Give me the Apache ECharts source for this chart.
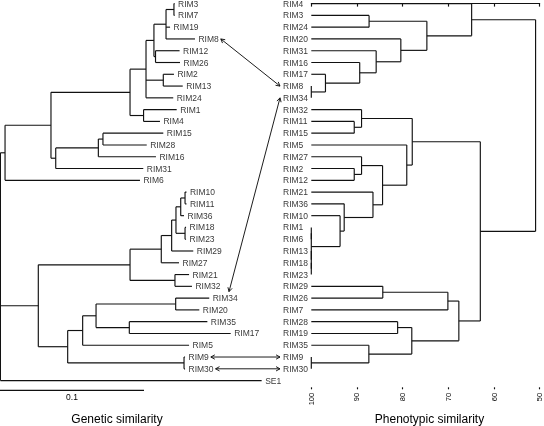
<!DOCTYPE html>
<html>
<head>
<meta charset="utf-8">
<script src="https://cdn.jsdelivr.net/npm/echarts@6/dist/echarts.min.js"></script>
<style>html,body{margin:0;padding:0;background:#fff;}#c{width:544px;height:426px;}#c svg{opacity:0.999;will-change:transform;}</style>
</head>
<body>
<div id="c"></div>
<script>
// ---------- DATA ----------
// Genetic tree (left): leaf order, tip distances (from root), internal nodes [id, distance, children...]
const geneLeaves = ['RIM3','RIM7','RIM19','RIM8','RIM12','RIM26','RIM2','RIM13','RIM24','RIM1','RIM4','RIM15','RIM28','RIM16','RIM31','RIM6','RIM10','RIM11','RIM36','RIM18','RIM23','RIM29','RIM27','RIM21','RIM32','RIM34','RIM20','RIM35','RIM17','RIM5','RIM9','RIM30','SE1'];
const geneTips = [0.1212,0.1212,0.1181,0.1354,0.1247,0.1250,0.1208,0.1269,0.1203,0.1227,0.1111,0.1134,0.1019,0.1083,0.0995,0.0972,0.1295,0.1295,0.1278,0.1292,0.1292,0.1342,0.1243,0.1313,0.1333,0.1453,0.1384,0.1440,0.1602,0.1313,0.1285,0.1285,0.1817];
const geneMerges = [
  ['g1', 0.1208, 'RIM3','RIM7'],
  ['g2', 0.1153, 'g1','RIM19','RIM8'],
  ['g3', 0.1080, 'RIM12','RIM26'],
  ['g4', 0.1069, 'g2','g3'],
  ['g5', 0.1134, 'RIM2','RIM13'],
  ['g6', 0.1014, 'g4','g5','RIM24'],
  ['g7', 0.0997, 'RIM1','RIM4'],
  ['g8', 0.0903, 'g6','g7'],
  ['g9', 0.0715, 'RIM15','RIM28'],
  ['g10', 0.0683, 'g9','RIM16'],
  ['g11', 0.0387, 'g10','RIM31'],
  ['g12', 0.0354, 'g8','g11'],
  ['g13', 0.0035, 'g12','RIM6'],
  ['g14', 0.1285, 'RIM10','RIM11'],
  ['g15', 0.1255, 'g14','RIM36'],
  ['g16', 0.1285, 'RIM18','RIM23'],
  ['g17', 0.1222, 'g15','g16'],
  ['g18', 0.1192, 'g17','RIM29'],
  ['g19', 0.1120, 'g18','RIM27'],
  ['g20', 0.1215, 'RIM21','RIM32'],
  ['g21', 0.0903, 'g19','g20'],
  ['g22', 0.1220, 'RIM34','RIM20'],
  ['g23', 0.0898, 'RIM35','RIM17'],
  ['g24', 0.0667, 'g22','g23'],
  ['g25', 0.0574, 'g24','RIM5'],
  ['g26', 0.1278, 'RIM9','RIM30'],
  ['g27', 0.0470, 'g25','g26'],
  ['g28', 0.0266, 'g21','g27'],
  ['g29', 0.0003, 'g13','g28','SE1']
];
const geneScaleBar = [0.1];

// Phenotypic tree (right): leaf order, merges [id, similarity %, children...]
const phenoLeaves = ['RIM4','RIM3','RIM24','RIM20','RIM31','RIM16','RIM17','RIM8','RIM34','RIM32','RIM11','RIM15','RIM5','RIM27','RIM2','RIM12','RIM21','RIM36','RIM10','RIM1','RIM6','RIM13','RIM18','RIM23','RIM29','RIM26','RIM7','RIM28','RIM19','RIM35','RIM9','RIM30'];
const phenoMerges = [
  ['p1', 100, 'RIM8','RIM34'],
  ['p2', 96.9, 'RIM17','p1'],
  ['p3', 89.4, 'RIM16','p2'],
  ['p4', 85.8, 'RIM31','p3'],
  ['p5', 80.4, 'RIM20','p4'],
  ['p6', 87.35, 'RIM3','RIM24'],
  ['p7', 74.7, 'p6','p5'],
  ['p8', 64.9, 'RIM4','p7'],
  ['p9', 90.6, 'RIM11','RIM15'],
  ['p10', 89.0, 'RIM32','p9'],
  ['p11', 90.6, 'RIM2','RIM12'],
  ['p12', 89.0, 'RIM27','p11'],
  ['p13', 100, 'RIM18','RIM23'],
  ['p14', 100, 'RIM13','p13'],
  ['p15', 100, 'RIM1','RIM6'],
  ['p16', 100, 'p15','p14'],
  ['p17', 93.7, 'RIM10','p16'],
  ['p18', 92.8, 'RIM36','p17'],
  ['p19', 86.5, 'RIM21','p18'],
  ['p20', 84.4, 'p12','p19'],
  ['p21', 79.1, 'RIM5','p20'],
  ['p22', 77.9, 'p10','p21'],
  ['p23', 84.35, 'RIM29','RIM26'],
  ['p24', 70.1, 'p23','RIM7'],
  ['p25', 81.1, 'RIM28','RIM19'],
  ['p26', 100, 'RIM9','RIM30'],
  ['p27', 87.4, 'RIM35','p26'],
  ['p28', 78.0, 'p25','p27'],
  ['p29', 67.7, 'p24','p28'],
  ['p30', 63.0, 'p22','p29'],
  ['p31', 50.9, 'p8','p30']
];
const phenoTicks = [100, 90, 80, 70, 60, 50];

// Leaves linked across the two trees: [name, arrow anchor on the left label]
const links = [['RIM8','right'], ['RIM34','top'], ['RIM9','right'], ['RIM30','right']];

// ---------- LAYOUT CONSTANTS ----------
const W = 544, H = 426;
const GRID_TOP = 3.6, GRID_H = 385.7, ROWMAX = 32.74;
const GENE_PX = 1440;           // px per unit genetic distance
const RIGHT_LEFT = 311.3, RIGHT_W = 228.4;
const RIGHT_LABEL_OFF = 28.3;
const FONT = 'Liberation Sans';
const LABEL_SIZE = 8.5;
const INK = '#111';
const LW = 1.15;

// ---------- TREE LAYOUT ----------
function buildSegments(leaves, leafX, merges) {
  const nodes = {};
  const get = k => nodes[k] || { x: leafX(k), y: leaves.indexOf(k) };
  const segs = [];
  merges.forEach(m => {
    const id = m[0], h = m[1];
    const kids = m.slice(2).map(get);
    kids.forEach(k => segs.push([k.x, k.y, h, k.y]));
    const y0 = kids[0].y, y1 = kids[kids.length - 1].y;
    segs.push([h, y0, h, y1]);
    nodes[id] = { x: h, y: (y0 + y1) / 2 };
  });
  return segs;
}
const geneSegs = buildSegments(geneLeaves, n => geneTips[geneLeaves.indexOf(n)], geneMerges);
const phenoSegs = buildSegments(phenoLeaves, () => 100, phenoMerges);

const measureCtx = document.createElement('canvas').getContext('2d');
measureCtx.font = LABEL_SIZE + 'px "' + FONT + '"';
const textW = s => measureCtx.measureText(s).width;

function segItem(params, api) {
  const a = api.coord([api.value(0), api.value(1)]);
  const b = api.coord([api.value(2), api.value(3)]);
  return { type: 'line', shape: { x1: a[0], y1: a[1], x2: b[0], y2: b[1] },
           style: { stroke: INK, lineWidth: LW } };
}

function head(tx, ty, fx, fy) {
  const ang = Math.atan2(ty - fy, tx - fx), len = 4.5, sp = 0.5;
  return { type: 'polyline', shape: { points: [
      [tx - len * Math.cos(ang - sp), ty - len * Math.sin(ang - sp)],
      [tx, ty],
      [tx - len * Math.cos(ang + sp), ty - len * Math.sin(ang + sp)]] },
    style: { stroke: INK, lineWidth: 0.95, fill: null } };
}

function linkItem(params, api) {
  const lk = links[params.dataIndex];
  const name = lk[0];
  const L = api.coord([api.value(0), api.value(1)]);
  const w = textW(name);
  const labStart = L[0] + 0.5 + 3;
  let sx, sy;
  if (lk[1] === 'top') { sx = labStart + 0.65 * w; sy = L[1] - 6.5; }
  else { sx = labStart + w + 2; sy = L[1]; }
  const R = api.coord([0, api.value(2)]);
  const ex = RIGHT_LEFT - RIGHT_LABEL_OFF - 3, ey = R[1];
  return { type: 'group', children: [
    { type: 'line', shape: { x1: sx, y1: sy, x2: ex, y2: ey }, style: { stroke: INK, lineWidth: 0.95 } },
    head(sx, sy, ex, ey), head(ex, ey, sx, sy)
  ] };
}

function scaleItem(params, api) {
  const a = api.coord([0, ROWMAX]);
  const b = api.coord([api.value(0), ROWMAX]);
  const y = a[1] + 1;
  return { type: 'group', children: [
    { type: 'line', shape: { x1: a[0], y1: y, x2: b[0], y2: y }, style: { stroke: INK, lineWidth: LW } },
    { type: 'text', x: (a[0] + b[0]) / 2, y: y + 7,
      style: { text: String(api.value(0)), fill: '#000', font: LABEL_SIZE + 'px "' + FONT + '"',
               align: 'center', verticalAlign: 'middle', textAlign: 'center', textVerticalAlign: 'middle' } }
  ] };
}

const chart = echarts.init(document.getElementById('c'), null, { renderer: 'svg', width: W, height: H });

const labelStyle = { show: true, color: '#000', fontSize: LABEL_SIZE, fontFamily: FONT };

chart.setOption({
  animation: false,
  backgroundColor: '#fff',
  grid: [
    { left: 0, top: GRID_TOP, width: W, height: GRID_H, containLabel: false, outerBoundsMode: 'none' },
    { left: RIGHT_LEFT, top: GRID_TOP, width: RIGHT_W, height: GRID_H, containLabel: false, outerBoundsMode: 'none' }
  ],
  xAxis: [
    { gridIndex: 0, type: 'value', min: 0, max: W / GENE_PX, show: false },
    { gridIndex: 1, type: 'value', min: Math.min(...phenoTicks), max: Math.max(...phenoTicks), interval: 10,
      inverse: true, position: 'bottom',
      axisLine: { show: true, lineStyle: { color: INK, width: LW } },
      axisTick: { show: true, length: 3, lineStyle: { color: INK, width: LW } },
      axisLabel: { rotate: 90, fontSize: 7.5, fontFamily: FONT, color: '#000', margin: 3.5 },
      splitLine: { show: false },
      name: 'Phenotypic similarity', nameLocation: 'middle', nameGap: 22,
      nameTextStyle: { fontSize: 12, fontFamily: FONT, color: '#000', padding: [0, 0, 0, 8] } },
    { gridIndex: 1, type: 'value', min: Math.min(...phenoTicks), max: Math.max(...phenoTicks), interval: 10,
      inverse: true, position: 'bottom',
      axisLine: { show: false },
      axisTick: { show: true, inside: true, length: 2, lineStyle: { color: INK, width: LW } },
      axisLabel: { show: false }, splitLine: { show: false } }
  ],
  yAxis: [
    { gridIndex: 0, type: 'value', min: 0, max: ROWMAX, inverse: true, show: false },
    { gridIndex: 1, type: 'value', min: 0, max: ROWMAX, inverse: true, show: false }
  ],
  graphic: [
    { type: 'text', x: 117, y: 418.5, silent: true,
      style: { text: 'Genetic similarity', fill: '#000', font: '12px "' + FONT + '"',
               align: 'center', verticalAlign: 'middle', textAlign: 'center', textVerticalAlign: 'middle' } }
  ],
  series: [
    { type: 'custom', name: 'geneTree', xAxisIndex: 0, yAxisIndex: 0, silent: true,
      renderItem: segItem, data: geneSegs },
    { type: 'scatter', name: 'geneLabels', xAxisIndex: 0, yAxisIndex: 0, silent: true,
      symbolSize: 1, itemStyle: { color: 'rgba(0,0,0,0)' },
      label: Object.assign({ position: 'right', distance: 3, formatter: '{b}' }, labelStyle),
      data: geneLeaves.map((n, i) => ({ name: n, value: [geneTips[i], i] })) },
    { type: 'custom', name: 'phenoTree', xAxisIndex: 1, yAxisIndex: 1, silent: true,
      renderItem: segItem, data: phenoSegs },
    { type: 'scatter', name: 'phenoLabels', xAxisIndex: 1, yAxisIndex: 1, silent: true,
      symbolSize: 1, itemStyle: { color: 'rgba(0,0,0,0)' },
      label: Object.assign({ position: 'right', distance: 0, offset: [-RIGHT_LABEL_OFF - 0.5, 0], formatter: '{b}' }, labelStyle),
      data: phenoLeaves.map((n, i) => ({ name: n, value: [100, i] })) },
    { type: 'custom', name: 'links', xAxisIndex: 0, yAxisIndex: 0, silent: true,
      renderItem: linkItem,
      data: links.map(l => [geneTips[geneLeaves.indexOf(l[0])], geneLeaves.indexOf(l[0]), phenoLeaves.indexOf(l[0])]) },
    { type: 'custom', name: 'scaleBar', xAxisIndex: 0, yAxisIndex: 0, silent: true,
      renderItem: scaleItem, data: geneScaleBar.map(v => [v]) }
  ]
});
</script>
</body>
</html>
